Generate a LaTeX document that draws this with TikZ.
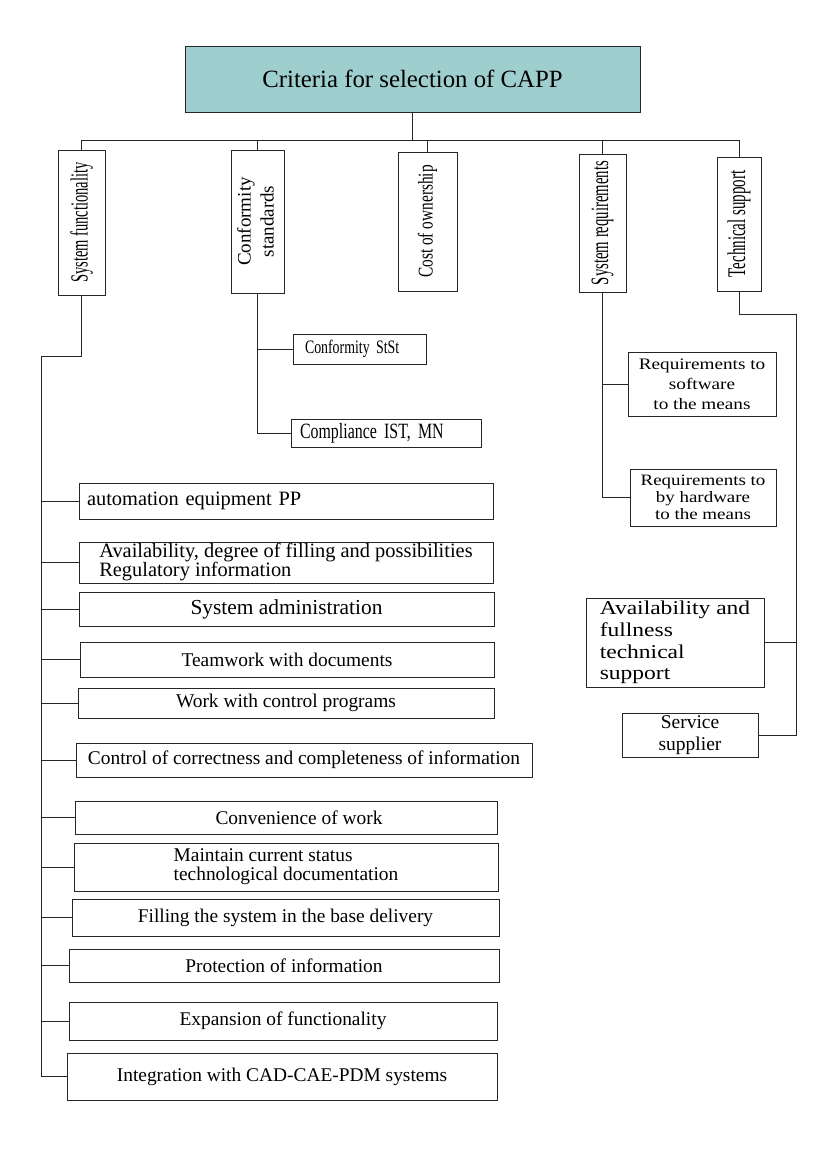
\documentclass[tikz,border=0pt]{standalone}
\usepackage{fontspec}
\setmainfont{Liberation Serif}
\newfontfamily\condserif[FakeStretch=0.59]{Liberation Serif}
\newfontfamily\semicondserif[FakeStretch=0.73]{Liberation Serif}
\newfontfamily\wideserif[FakeStretch=1.2]{Liberation Serif}
\definecolor{capphead}{RGB}{158,206,206}

\begin{document}
\begin{tikzpicture}[x=1pt, y=-1pt, line width=0.9pt,
    crit/.style 2 args={draw=black!85, inner sep=0pt, minimum width=#1pt, minimum height=#2pt},
    listfont/.style={font=\fontsize{#1}{19}\selectfont},
    listfont/.default=19.4,
    link/.style={draw=black!85, line width=0.9pt}]
        \useasboundingbox (0,0) rectangle (827,1170);

        % Head
        \node[crit={455}{66}, fill=capphead, font=\fontsize{24.8}{28}\selectfont] (title) at (412.5,79) {Criteria for selection of CAPP};

        % Criteria groups
        \node[crit={47}{145}, font=\condserif\fontsize{24.6}{26}\selectfont] (sf) at (81.5,222.5) {\rotatebox{90}{System functionality}};
        \node[crit={53}{143}, font=\fontsize{19}{23}\selectfont] (cs) at (257.5,221.5) {\rotatebox{90}{\begin{tabular}{@{}c@{}}Conformity\\standards\end{tabular}}};
        \node[crit={59}{139}, font=\semicondserif\fontsize{21}{22}\selectfont] (co) at (427.5,221.5) {\rotatebox{90}{Cost of ownership}};
        \node[crit={47}{138}, font=\condserif\fontsize{25}{26}\selectfont] (sr) at (602.5,223) {\rotatebox{90}{System requirements}};
        \node[crit={44}{134}, font=\condserif\fontsize{25.4}{26}\selectfont] (ts) at (739,224) {\rotatebox{90}{Technical support}};

        % Standards
        \node[crit={133}{30}, align=left, text width=109pt, font=\semicondserif\fontsize{19}{22}\selectfont] (cst) at (359.5,349) {Conformity StSt};
        \node[crit={190}{28}, align=left, text width=172pt, font=\semicondserif\fontsize{21.8}{24}\selectfont] (cis) at (386,433) {Compliance IST, MN};

        % Requirements
        \node[crit={148}{64}, align=center, font=\wideserif\fontsize{16}{20}\selectfont] (rs) at (702,384) {Requirements to\\software\\to the means};
        \node[crit={146}{57}, align=center, font=\wideserif\fontsize{15.8}{17}\selectfont] (rh) at (703,497.5) {Requirements to\\by hardware\\to the means};

        % Support
        \node[crit={178}{89}, align=left, font=\wideserif\fontsize{19.6}{21.7}\selectfont] (av) at (675,642.5) {Availability and\\fullness\\technical\\support};
        \node[crit={136}{44}, align=center, font=\fontsize{19.5}{21.7}\selectfont] (ss) at (690,735) {Service\\supplier};

        % Functionality list
        \node[crit={414}{36}, listfont=20.4, align=left, text width=398pt] (f1) at (286,501) {automation equipment PP};
        \node[crit={414}{41}, listfont=20.4, align=left] (f2) at (286,562.5) {Availability, degree of filling and possibilities\\Regulatory information};
        \node[crit={415}{34}, listfont=21.4] (f3) at (286.5,609) {System administration};
        \node[crit={414}{35}, listfont] (f4) at (287,659.5) {Teamwork with documents};
        \node[crit={416}{30}, listfont] (f5) at (286,703) {Work with control programs};
        \node[crit={456}{34}, listfont] (f6) at (304,760) {Control of correctness and completeness of information};
        \node[crit={422}{33}, listfont] (f7) at (286,817.5) {\hspace*{26pt}Convenience of work};
        \node[crit={424}{48}, listfont, align=left] (f8) at (286,867) {Maintain current status\\technological documentation};
        \node[crit={427}{37}, listfont] (f9) at (285.5,917.5) {Filling the system in the base delivery};
        \node[crit={430}{33}, listfont] (f10) at (284,965.5) {Protection of information};
        \node[crit={428}{38}, listfont] (f11) at (283,1021) {Expansion of functionality};
        \node[crit={430}{47}, listfont] (f12) at (282,1076.5) {Integration with CAD-CAE-PDM systems};

        % Bus
        \coordinate (bus) at (0,140);
        \draw[link] (title.south) -- (title.south |- bus);
        \draw[link] (sf.north |- bus) -- (ts.north |- bus);
        \foreach \n in {sf,cs,co,sr,ts}
            \draw[link] (\n.north) -- (\n.north |- bus);

        % Branches
        \coordinate (sfknee) at (41,356);
        \draw[link] (sf.south) |- (sfknee) |- (f12.west);
        \foreach \i in {1,...,11}
            \draw[link] (f\i.west) -- (f\i.west -| sfknee);

        \draw[link] (cs.south) |- (cis.west);
        \draw[link] (cst.west) -- (cst.west -| cs.south);

        \draw[link] (sr.south) |- (rh.west);
        \draw[link] (rs.west) -- (rs.west -| sr.south);

        \coordinate (tsknee) at (796,314);
        \draw[link] (ts.south) |- (tsknee) |- (ss.east);
        \draw[link] (av.east) -- (av.east -| tsknee);
    \end{tikzpicture}
\end{document}
